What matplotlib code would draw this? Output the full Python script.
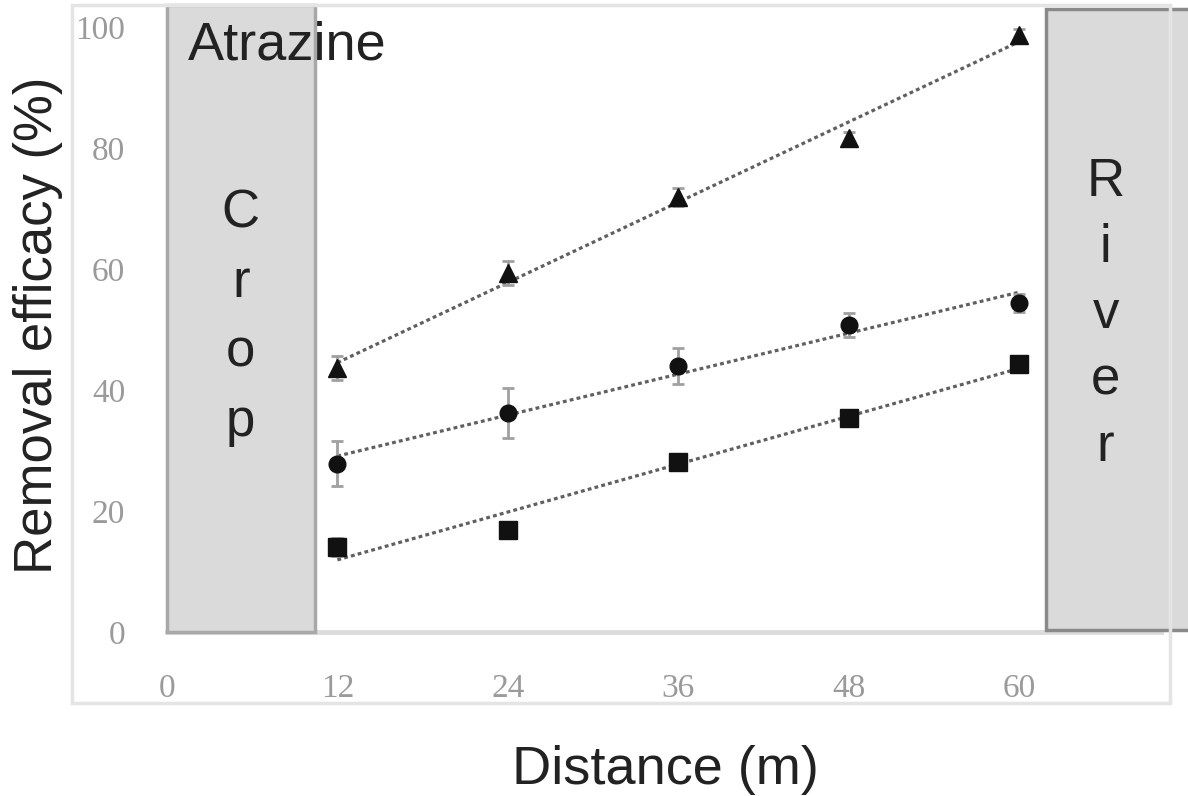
import matplotlib
matplotlib.use("Agg")
import matplotlib.pyplot as plt
from matplotlib.patches import Rectangle
import numpy as np

distance = [12, 24, 36, 48, 60]
triangle_vals = [43.6, 59.3, 71.9, 81.7, 98.7]
triangle_err = [2.0, 2.0, 1.5, 1.0, 1.0]
circle_vals = [27.8, 36.2, 44.0, 50.7, 54.4]
circle_err = [3.7, 4.2, 3.0, 2.0, 1.5]
square_vals = [14.0, 16.9, 28.1, 35.4, 44.3]
square_err = [1.5, 1.0, 1.0, 1.0, 1.0]
xticks = [0, 12, 24, 36, 48, 60]
yticks = [0, 20, 40, 60, 80, 100]

fig = plt.figure(figsize=(11.88, 7.96), dpi=100)
ax = fig.add_axes([167/1188, 1 - 632/796, 994/1188, 627/796])

# outer chart frame
fig.patches.append(Rectangle((72/1188, 1 - 703/796), (1170-72)/1188, (703-5)/796,
                             transform=fig.transFigure, fill=False,
                             edgecolor="#e4e4e4", lw=2.5, zorder=0))

ymax = 627/6.05
ax.set_xlim(0, 70)
ax.set_ylim(0, ymax)

# Crop and River boxes
ax.add_patch(Rectangle((0, 0), 10.4, ymax, facecolor="#dadada", edgecolor="#a8a8a8",
                       lw=2.5, zorder=1, clip_on=False))
ax.add_patch(Rectangle((61.9, 0.3), 12, ymax - 0.9, facecolor="#dadada", edgecolor="#8a8a8a",
                       lw=2.5, zorder=1, clip_on=False))
ax.text(5.2, 52, "C\nr\no\np", ha="center", va="center", fontsize=38,
        family="Liberation Sans", color="#222222", linespacing=1.5, zorder=3)
ax.text(66.1, 52.5, "R\ni\nv\ne\nr", ha="center", va="center", fontsize=38,
        family="Liberation Sans", color="#222222", linespacing=1.42, zorder=3, clip_on=False)
ax.text(1.5, 97, "Atrazine", ha="left", va="center", fontsize=39,
        family="Liberation Sans", color="#222222", zorder=3)

series = [
    (triangle_vals, triangle_err, "^", 13),
    (circle_vals, circle_err, "o", 12),
    (square_vals, square_err, "s", 13.5),
]
xs = np.array(distance, dtype=float)
for vals, err, mk, ms in series:
    coef = np.polyfit(xs, vals, 1)
    ax.plot(xs, np.polyval(coef, xs), linestyle=(0, (1.2, 1.0)), color="#606060",
            lw=2.3, zorder=4)
    ax.errorbar(xs, vals, yerr=err, fmt="none", ecolor="#a0a0a0", elinewidth=2,
                capsize=4.5, capthick=2, zorder=5)
    ax.plot(xs, vals, linestyle="none", marker=mk, markersize=ms, color="#111111", zorder=6)

for s in ["top", "right", "left"]:
    ax.spines[s].set_visible(False)
ax.spines["bottom"].set_color("#dcdcdc")
ax.spines["bottom"].set_linewidth(3.5)
ax.spines["bottom"].set_zorder(0)

ax.set_xticks(xticks)
ax.set_yticks(yticks)
ax.tick_params(length=0, labelsize=24, labelcolor="#9a9a9a")
ax.tick_params(axis="x", pad=30)
ax.tick_params(axis="y", pad=30)
for lab in ax.get_xticklabels() + ax.get_yticklabels():
    lab.set_family("Liberation Serif")

fig.text(38/1188, 1 - 325/796, "Removal efficacy (%)", rotation=90, ha="center", va="center",
         fontsize=38, family="Liberation Sans", color="#222222")
fig.text(665/1188, 1 - 770/796, "Distance (m)", ha="center", va="center",
         fontsize=39, family="Liberation Sans", color="#222222")

fig.savefig("out.png", dpi=100)
